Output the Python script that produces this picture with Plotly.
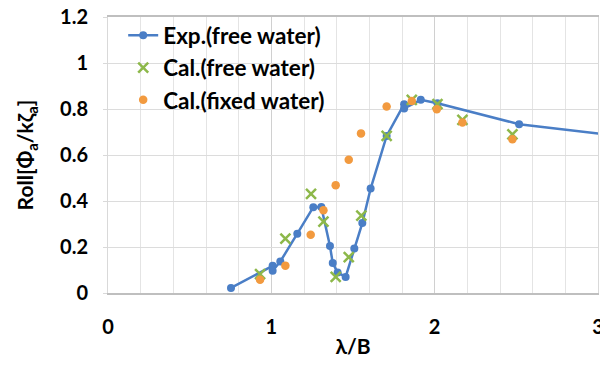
import plotly.graph_objects as go

# Exp. (free water)
exp_x = [0.753, 1.008, 1.008, 1.055, 1.159, 1.257, 1.306, 1.359, 1.376, 1.406, 1.455,
         1.508, 1.557, 1.608, 1.706, 1.813, 1.813, 1.915, 2.017, 2.517, 3.2]
exp_y = [0.022, 0.118, 0.097, 0.137, 0.258, 0.373, 0.374, 0.204, 0.130, 0.089, 0.070,
         0.193, 0.304, 0.454, 0.683, 0.821, 0.802, 0.840, 0.825, 0.734, 0.677]

# Cal. (free water)
calfree_x = [0.931, 1.086, 1.243, 1.319, 1.394, 1.474, 1.551, 1.706, 1.860, 2.017, 2.170, 2.476]
calfree_y = [0.082, 0.236, 0.431, 0.310, 0.070, 0.156, 0.336, 0.683, 0.840, 0.821, 0.753, 0.690]

# Cal. (fixed water)
calfix_x = [0.931, 1.086, 1.241, 1.319, 1.394, 1.474, 1.549, 1.706, 1.860, 2.013, 2.170, 2.476]
calfix_y = [0.058, 0.119, 0.253, 0.360, 0.469, 0.579, 0.694, 0.811, 0.835, 0.799, 0.741, 0.668]

x_ticks = [0, 1, 2, 3]
y_ticks = [0, 0.2, 0.4, 0.6, 0.8, 1.0, 1.2]
y_tick_text = ["0", "0.2", "0.4", "0.6", "0.8", "1", "1.2"]

FONT = "Lato"
BLUE = "#4A7EC6"
GREEN = "#8DB84A"
ORANGE = "#F29A3F"

fig = go.Figure()
fig.add_trace(go.Scatter(
    x=exp_x, y=exp_y, mode="lines+markers", name="Exp.(free water)",
    legendgroup="a",
    line=dict(color=BLUE, width=2.5),
    marker=dict(color=BLUE, size=8),
))
fig.add_trace(go.Scatter(
    x=calfree_x, y=calfree_y, mode="markers", name="Cal.(free water)",
    legendgroup="b",
    marker=dict(color=GREEN, size=10, symbol="x-thin", line=dict(color=GREEN, width=2.5)),
))
fig.add_trace(go.Scatter(
    x=calfix_x, y=calfix_y, mode="markers", name="Cal.(fixed water)",
    legendgroup="c",
    marker=dict(color=ORANGE, size=8.5),
))

# page body has an 8px margin: figure is 600x363 so it ends at the window edge
fig.update_layout(
    width=600, height=363,
    margin=dict(l=100, r=10, t=9, b=78, autoexpand=False),
    paper_bgcolor="white", plot_bgcolor="white",
    font=dict(family=FONT, color="black", size=21, weight="bold"),
    showlegend=True,
    legend=dict(
        x=0.031, y=1.01, xanchor="left", yanchor="top",
        bgcolor="rgba(255,255,255,0)", borderwidth=0,
        font=dict(family=FONT, size=22.5, color="black", weight="bold"),
        traceorder="grouped", tracegroupgap=0,
    ),
    xaxis=dict(
        range=[0, 3], tickvals=x_ticks, ticktext=[str(v) for v in x_ticks],
        showgrid=True, gridcolor="#d0d0d0", gridwidth=1,
        minor=dict(dtick=0.2, showgrid=True, gridcolor="#e4e4e4", gridwidth=1),
        showline=True, linecolor="#bfbfbf", linewidth=1.5, mirror=True,
        zeroline=False, ticks="", ticklabelstandoff=15, automargin=False,
        ticklabeloverflow="allow",
        tickfont=dict(family=FONT, size=20, color="black", weight="bold"),
        title=dict(text="λ/B", font=dict(family=FONT, size=21, color="black", weight="bold"), standoff=3),
    ),
    yaxis=dict(
        range=[0, 1.2], tickvals=y_ticks, ticktext=y_tick_text,
        showgrid=True, gridcolor="#dcdcdc", gridwidth=1,
        showline=True, linecolor="#d9d9d9", linewidth=1, mirror=True,
        zeroline=False, ticks="outside", ticklen=4, tickcolor="#d9d9d9",
        ticklabelstandoff=11, automargin=False,
        ticklabeloverflow="allow",
        tickfont=dict(family=FONT, size=20, color="black", weight="bold"),
        title=dict(text="Roll[Φ<sub>a</sub>/kζ<sub>a</sub>]",
                   font=dict(family=FONT, size=21, color="black", weight="bold"), standoff=20),
    ),
)

fig.write_html("out.html")
